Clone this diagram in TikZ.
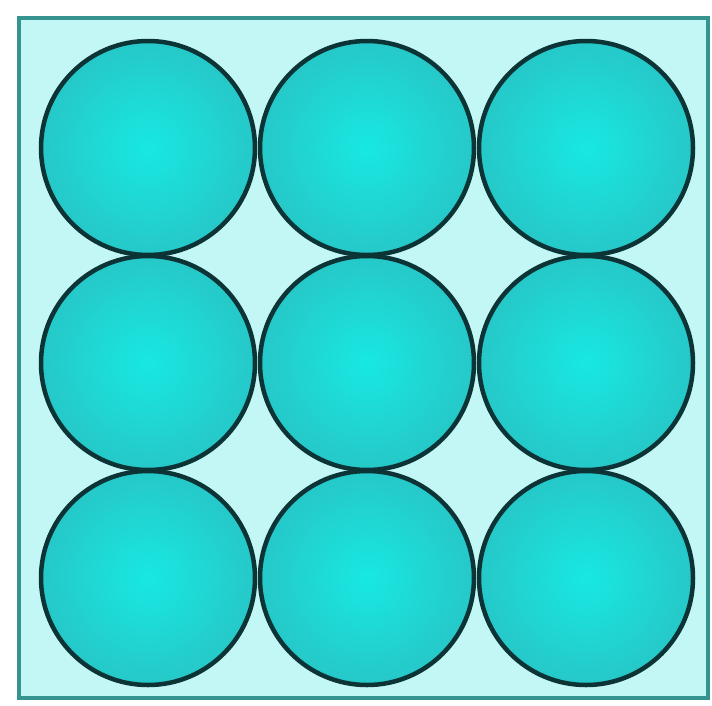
\documentclass[tikz,border=0pt]{standalone}
\definecolor{bgcyan}{HTML}{C2F7F5}
\definecolor{frameteal}{HTML}{35948F}
\definecolor{ballin}{HTML}{18E8E2}
\definecolor{ballout}{HTML}{26C8C8}
\definecolor{ballline}{HTML}{0C3436}
\tikzset{
  ball/.style={circle, minimum size=214pt, inner sep=0pt, draw=ballline, line width=4.5pt,
    inner color=ballin, outer color=ballout},
  frame/.style={draw=frameteal, line width=4.5pt, fill=bgcyan}
}
\begin{document}
\begin{tikzpicture}[x=1pt,y=-1pt]
\useasboundingbox (0,0) rectangle (712,705);
\fill[white] (0,0) rectangle (712,705);
\draw[frame] (19,18) rectangle (708,698);
\foreach \i/\x in {1/148,2/367,3/586}{
  \foreach \j/\y in {1/148,2/363,3/578}{
    \node[ball] (c\i\j) at (\x,\y) {};
  }
}
\end{tikzpicture}
\end{document}
